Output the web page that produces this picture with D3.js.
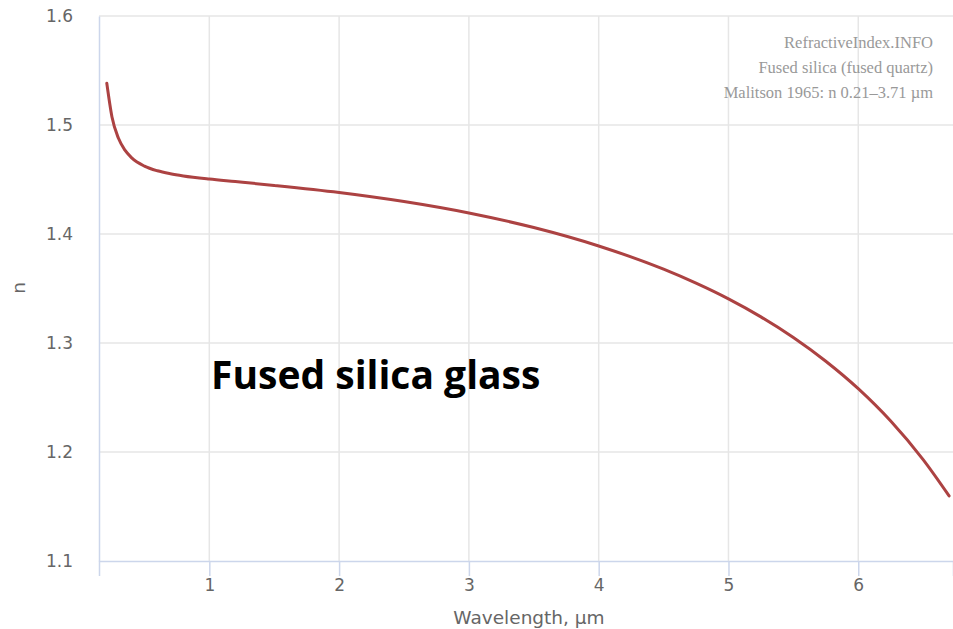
<!DOCTYPE html>
<html>
<head>
<meta charset="utf-8">
<script src="https://cdn.jsdelivr.net/npm/d3@7"></script>
<style>
  html, body { margin: 0; padding: 0; background: #fff; }
  svg { display: block; }
</style>
</head>
<body>
<svg id="chart" width="953" height="629"></svg>
<script>
// Refractive index of fused silica, wavelength in µm
const wavelengths = [0.21, 0.25, 0.3, 0.35, 0.4, 0.5, 0.6, 0.7, 0.8, 1.0, 1.2, 1.5, 2.0, 2.5, 3.0, 3.5, 4.0, 4.5, 4.75, 5.0, 5.25, 5.5, 5.75, 6.0, 6.25, 6.5, 6.7];
const indexN      = [1.5384, 1.5074, 1.4878, 1.4769, 1.4701, 1.4623, 1.4580, 1.4553, 1.4533, 1.4504, 1.4481, 1.4446, 1.4381, 1.4298, 1.4193, 1.4059, 1.3890, 1.3677, 1.3549, 1.3405, 1.3240, 1.3051, 1.2833, 1.2581, 1.2284, 1.1930, 1.1597];
const xTicks = [1, 2, 3, 4, 5, 6];
const yTicks = [1.1, 1.2, 1.3, 1.4, 1.5, 1.6];
const creditLines = ["RefractiveIndex.INFO", "Fused silica (fused quartz)", "Malitson 1965: n 0.21\u20133.71 \u00b5m"];
const chartLabel = "Fused silica glass";

const svg = d3.select("#chart");
const plot = { left: 99, right: 953, top: 16, bottom: 561 };
const sans = "DejaVu Sans, Verdana, sans-serif";

const x = d3.scaleLinear().domain([0.15, 6.73]).range([plot.left, plot.right]);
const y = d3.scaleLinear().domain([1.1, 1.6]).range([plot.bottom, plot.top]);

// grid
svg.append("g").selectAll("line").data(xTicks).join("line")
  .attr("x1", d => x(d)).attr("x2", d => x(d))
  .attr("y1", plot.top).attr("y2", plot.bottom)
  .attr("stroke", "#e6e6e6").attr("stroke-width", 1.5);
svg.append("g").selectAll("line").data(yTicks.filter(d => d > 1.1)).join("line")
  .attr("x1", plot.left).attr("x2", plot.right)
  .attr("y1", d => y(d)).attr("y2", d => y(d))
  .attr("stroke", "#e6e6e6").attr("stroke-width", 1.5);

// x axis
const xAxis = svg.append("g").attr("transform", `translate(0,${plot.bottom})`)
  .call(d3.axisBottom(x).tickValues(xTicks).tickFormat(d3.format("d")).tickSize(15).tickPadding(3));
xAxis.select(".domain").attr("stroke", "#ccd6eb").attr("stroke-width", 1.5);
xAxis.selectAll(".tick line").attr("stroke", "#ccd6eb").attr("stroke-width", 1.5);
xAxis.selectAll(".tick text").attr("fill", "#666").attr("font-size", 17).attr("font-family", sans);

// y axis
const yAxis = svg.append("g").attr("transform", `translate(${plot.left},0)`)
  .call(d3.axisLeft(y).tickValues(yTicks).tickFormat(d3.format(".1f")).tickSize(0).tickPadding(26));
yAxis.select(".domain").attr("stroke", "#ccd6eb").attr("stroke-width", 1.5);
yAxis.selectAll(".tick text").attr("fill", "#666").attr("font-size", 17).attr("font-family", sans);

// axis titles
svg.append("text").attr("x", 529).attr("y", 624)
  .attr("text-anchor", "middle").attr("fill", "#666").attr("font-size", 18.5)
  .attr("font-family", sans).text("Wavelength, \u00b5m");
svg.append("text").attr("transform", `translate(25,288) rotate(-90)`)
  .attr("text-anchor", "middle").attr("fill", "#666").attr("font-size", 18.5)
  .attr("font-family", sans).text("n");

// curve
const pts = wavelengths.map((w, i) => [w, indexN[i]]);
svg.append("path").datum(pts)
  .attr("fill", "none").attr("stroke", "#ac4242").attr("stroke-width", 3)
  .attr("stroke-linejoin", "round").attr("stroke-linecap", "round")
  .attr("d", d3.line().x(d => x(d[0])).y(d => y(d[1])).curve(d3.curveMonotoneX));

// source credits
svg.append("g").selectAll("text").data(creditLines).join("text")
  .attr("x", 933).attr("y", (d, i) => 48 + i * 25)
  .attr("text-anchor", "end").attr("fill", "#999").attr("font-size", 16.5)
  .attr("font-family", "Liberation Serif, serif").text(d => d);

// chart label
svg.append("text").attr("x", 211).attr("y", 389)
  .attr("fill", "#000").attr("font-size", 39).attr("font-weight", "bold")
  .attr("font-family", "Open Sans, sans-serif").text(chartLabel);
</script>
</body>
</html>
